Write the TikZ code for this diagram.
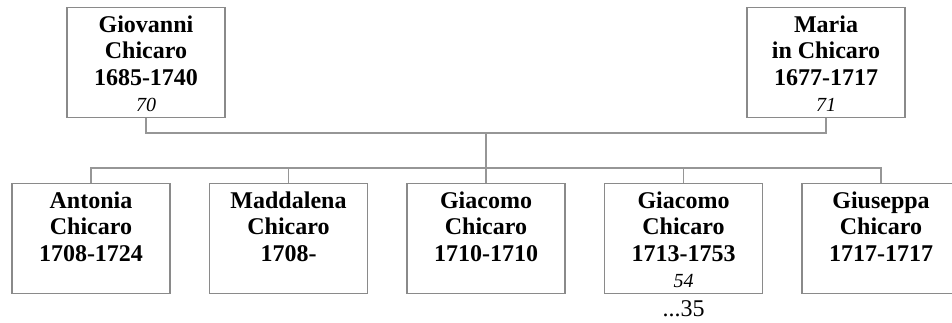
\documentclass[tikz,border=0pt]{standalone}
\usepackage{fontspec}
\setmainfont{Liberation Serif}
\usepackage{tikz}
\usetikzlibrary{positioning}

\definecolor{framegray}{RGB}{138,138,138}
\definecolor{linkgray}{RGB}{150,150,150}
\newcommand{\agefont}{\mdseries\itshape\fontsize{15}{19.9}\selectfont}

\begin{document}
\begin{tikzpicture}[
    x=0.75pt, y=-0.75pt,
    person/.style={draw=framegray, line width=0.9pt, anchor=north, minimum width=118.5pt, minimum height=82.5pt, inner sep=0pt, fill=white},
    bio/.style={inner sep=0pt, align=center, font=\bfseries\fontsize{18}{19.9}\selectfont},
    link/.style={draw=linkgray, line width=0.8pt}
]
\useasboundingbox (0,0) rectangle (952,323);
% parents
\node[person] (gio) at (146,7) {};
\node[person] (mar) at (826,7) {};
% children
\node[person] (ant) at (91,183) {};
\node[person] (mad) at (288.5,183) {};
\node[person] (gia1) at (486,183) {};
\node[person] (gia2) at (683.5,183) {};
\node[person] (giu) at (881,183) {};
% names
\node[bio, below=4.8pt of gio.north] (gio-t) {\strut Giovanni\\Chicaro\\1685-1740\\{\agefont 70}};
\node[bio, below=4.8pt of mar.north] (mar-t) {\strut Maria\\in Chicaro\\1677-1717\\{\agefont 71}};
\node[bio, below=4.8pt of ant.north] (ant-t) {\strut Antonia\\Chicaro\\1708-1724};
\node[bio, below=4.8pt of mad.north] (mad-t) {\strut Maddalena\\Chicaro\\1708-};
\node[bio, below=4.8pt of gia1.north] (gia1-t) {\strut Giacomo\\Chicaro\\1710-1710};
\node[bio, below=4.8pt of gia2.north] (gia2-t) {\strut Giacomo\\Chicaro\\1713-1753\\{\agefont 54}};
\node[bio, below=4.8pt of giu.north] (giu-t) {\strut Giuseppa\\Chicaro\\1717-1717};
\node[inner sep=0pt, font=\fontsize{18}{20}\selectfont, below=4.4pt of gia2.south] (more) {...35};
% lines
\coordinate (couple) at (486,133);
\coordinate (sib) at (486,168);
\draw[link] (gio.south) |- (couple) -| (mar.south);
\draw[link] (couple) -- (gia1.north);
\draw[link] (ant.north) |- (sib) -| (giu.north);
\draw[link] (mad.north) -- (mad.north |- sib);
\draw[link] (gia2.north) -- (gia2.north |- sib);
\end{tikzpicture}
\end{document}
